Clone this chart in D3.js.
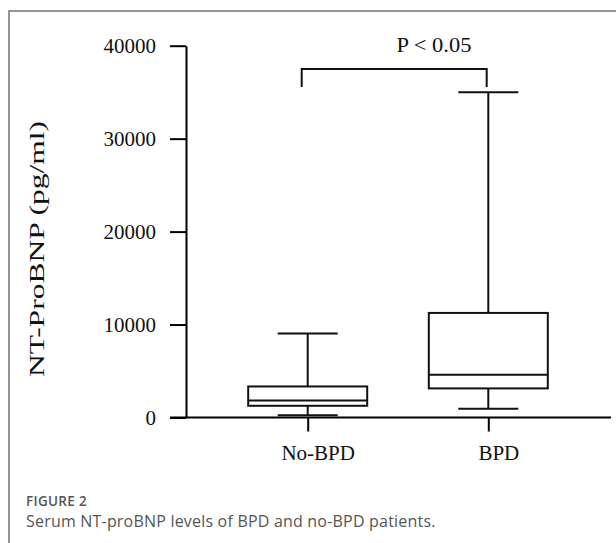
<!DOCTYPE html>
<html>
<head>
<meta charset="utf-8">
<script src="https://cdn.jsdelivr.net/npm/d3@7.9.0/dist/d3.min.js"></script>
<style>
  body { margin: 0; background: #fff; }
  svg { display: block; }
</style>
</head>
<body>
<svg id="chart" width="616" height="543"></svg>
<script>
// box plot summary values
const groups = ['No-BPD', 'BPD'];
const whiskerLow = [250, 950];
const q1 = [1260, 3130];
const median = [1830, 4600];
const q3 = [3340, 11250];
const whiskerHigh = [9050, 35000];
const yTicks = [0, 10000, 20000, 30000, 40000];

// significance bracket
const bracketTop = 37500;
const bracketLeg = 35550;
const pLabel = 'P < 0.05';

const svg = d3.select('#chart');

// figure frame (left + top rule)
svg.append('path')
    .attr('d', 'M9,543V11H616')
    .attr('fill', 'none')
    .attr('stroke', '#707070')
    .attr('stroke-width', 1.5);

const y = d3.scaleLinear().domain([0, 40000]).range([417.5, 45.7]);
const x = d3.scalePoint().domain(groups).range([307.7, 488.3]);
const boxW = 119;
const capW = 60;

const serif = '"Liberation Serif", "Times New Roman", serif';

// y axis
const yAxis = svg.append('g')
    .attr('transform', 'translate(186,0)')
    .call(d3.axisLeft(y).tickValues(yTicks).tickSize(16).tickSizeOuter(0).tickPadding(14).tickFormat(d3.format('d')));
yAxis.select('.domain').attr('stroke-width', 2);
yAxis.selectAll('.tick line').attr('stroke-width', 2);
yAxis.selectAll('.tick text')
    .attr('font-family', serif)
    .attr('font-size', 21)
    .attr('fill', '#111');

// x axis
const xAxis = svg.append('g')
    .attr('transform', `translate(0,${y(0)})`)
    .call(d3.axisBottom(x).tickSize(14).tickSizeOuter(0).tickPadding(14));
xAxis.select('.domain').remove();
xAxis.append('line')
    .attr('x1', 170).attr('x2', 611)
    .attr('stroke', '#000').attr('stroke-width', 2);
xAxis.selectAll('.tick line').attr('stroke-width', 2);
xAxis.selectAll('.tick text')
    .attr('font-family', serif)
    .attr('font-size', 21)
    .attr('fill', '#111')
    .attr('dx', 10);

// boxes
const boxes = svg.append('g')
    .attr('fill', 'none')
    .attr('stroke', '#111')
    .attr('stroke-width', 2);

groups.forEach((g, i) => {
    const cx = x(g);
    // whisker stems
    boxes.append('line')
        .attr('x1', cx).attr('x2', cx)
        .attr('y1', y(whiskerHigh[i])).attr('y2', y(q3[i]));
    boxes.append('line')
        .attr('x1', cx).attr('x2', cx)
        .attr('y1', y(q1[i])).attr('y2', y(whiskerLow[i]));
    // caps
    [whiskerLow[i], whiskerHigh[i]].forEach((v) => {
        boxes.append('line')
            .attr('x1', cx - capW / 2).attr('x2', cx + capW / 2)
            .attr('y1', y(v)).attr('y2', y(v));
    });
    // box
    boxes.append('rect')
        .attr('x', cx - boxW / 2)
        .attr('y', y(q3[i]))
        .attr('width', boxW)
        .attr('height', y(q1[i]) - y(q3[i]));
    // median
    boxes.append('line')
        .attr('x1', cx - boxW / 2).attr('x2', cx + boxW / 2)
        .attr('y1', y(median[i])).attr('y2', y(median[i]));
});

// significance bracket
const bx1 = x(groups[0]) - 6;
const bx2 = x(groups[1]) - 1.6;
svg.append('path')
    .attr('d', `M${bx1},${y(bracketLeg)}V${y(bracketTop)}H${bx2}V${y(bracketLeg)}`)
    .attr('fill', 'none')
    .attr('stroke', '#111')
    .attr('stroke-width', 2);
svg.append('text')
    .attr('x', 434)
    .attr('y', 51.7)
    .attr('text-anchor', 'middle')
    .attr('font-family', serif)
    .attr('font-size', 21)
    .attr('textLength', 75)
    .attr('lengthAdjust', 'spacingAndGlyphs')
    .attr('fill', '#111')
    .text(pLabel);

// y axis title (stretched like the original export)
svg.append('text')
    .attr('transform', 'translate(44,249) rotate(-90)')
    .attr('text-anchor', 'middle')
    .attr('font-family', serif)
    .attr('font-size', 21)
    .attr('textLength', 256)
    .attr('lengthAdjust', 'spacingAndGlyphs')
    .attr('fill', '#111')
    .text('NT-ProBNP  (pg/ml)');

// caption
svg.append('text')
    .attr('x', 26)
    .attr('y', 506)
    .attr('font-family', '"Open Sans", sans-serif')
    .attr('font-size', 13.5)
    .attr('font-weight', 600)
    .attr('letter-spacing', 0.3)
    .attr('fill', '#555')
    .text('FIGURE 2');
svg.append('text')
    .attr('x', 26)
    .attr('y', 527)
    .attr('font-family', '"Open Sans", sans-serif')
    .attr('font-size', 16)
    .attr('letter-spacing', 0.2)
    .attr('fill', '#555')
    .text('Serum NT-proBNP levels of BPD and no-BPD patients.');
</script>
</body>
</html>
